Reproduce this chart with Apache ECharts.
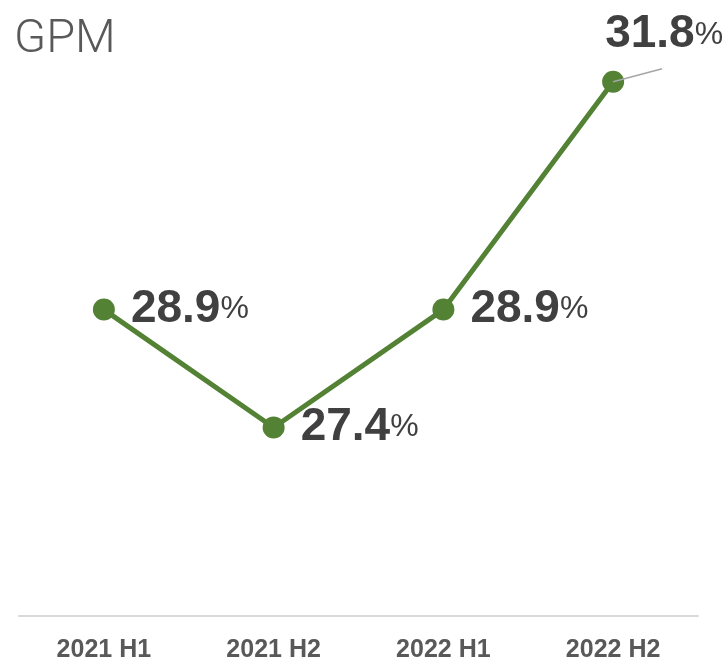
<!DOCTYPE html>
<html>
<head>
<meta charset="utf-8">
<script src="https://cdn.jsdelivr.net/npm/echarts@6/dist/echarts.min.js"></script>
<style>
  html, body { margin: 0; padding: 0; background: #fff; }
  #main { width: 726px; height: 664px; }
</style>
</head>
<body>
<div id="main"></div>
<script>
var periods = ['2021 H1', '2021 H2', '2022 H1', '2022 H2'];
var gpm = [28.9, 27.4, 28.9, 31.8];

var chartDom = document.getElementById('main');
var myChart = echarts.init(chartDom);

var labelRich = {
    num: {
        fontFamily: 'Liberation Sans',
        fontWeight: 'bold',
        fontSize: 46,
        color: '#404040'
    },
    pct: {
        fontFamily: 'Liberation Sans',
        fontSize: 32,
        color: '#404040'
    }
};

var last = gpm.length - 1;

var option = {
    backgroundColor: '#fff',
    title: {
        text: 'GPM',
        left: 9,
        top: 12,
        textStyle: {
            fontFamily: 'Roboto',
            fontWeight: 300,
            fontSize: 47,
            color: '#595959'
        }
    },
    grid: {
        left: 19,
        right: 28,
        top: 66,
        bottom: 48
    },
    xAxis: {
        type: 'category',
        data: periods,
        axisLine: { lineStyle: { color: '#d9d9d9', width: 2 } },
        axisTick: { show: false },
        axisLabel: {
            margin: 22,
            fontFamily: 'Liberation Sans',
            fontWeight: 'bold',
            fontSize: 25,
            color: '#595959'
        }
    },
    yAxis: {
        type: 'value',
        min: 25,
        max: 32,
        show: false,
        splitLine: { show: false }
    },
    series: [{
        type: 'line',
        data: gpm,
        symbol: 'circle',
        symbolSize: 22,
        lineStyle: { color: '#548235', width: 5 },
        itemStyle: { color: '#548235' },
        label: {
            show: true,
            position: 'right',
            distance: 16,
            formatter: function (p) {
                return '{num|' + p.value.toFixed(1) + '}{pct|%}';
            },
            rich: labelRich
        },
        labelLayout: function (params) {
            if (params.dataIndex === last) {
                return { dx: -35, dy: -47 };
            }
            return {};
        }
    }]
};

myChart.setOption(option);

// leader line for the last label, anchored on the last point
var p = myChart.convertToPixel({ seriesIndex: 0 }, [last, gpm[last]]);
myChart.setOption({
    graphic: [{
        type: 'line',
        shape: { x1: p[0], y1: p[1], x2: p[0] + 49, y2: p[1] - 13 },
        style: { stroke: '#a6a6a6', lineWidth: 1.5 },
        z: 10
    }]
});
</script>
</body>
</html>
